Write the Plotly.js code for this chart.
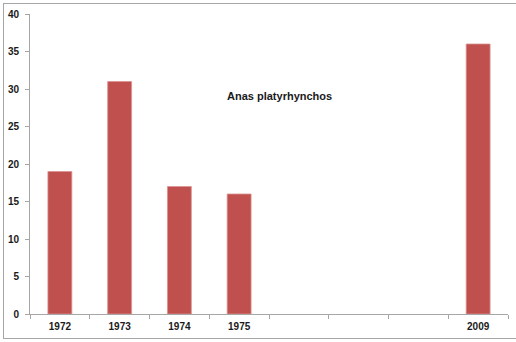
<!DOCTYPE html>
<html>
<head>
<meta charset="utf-8">
<script src="https://cdn.plot.ly/plotly-3.0.1.min.js"></script>
<style>
html,body{margin:0;padding:0;background:#fff;overflow:hidden;}
#wrap{position:relative;width:516px;height:342px;}
#chart{position:absolute;left:0;top:0;width:516px;height:342px;}
#frame{position:absolute;left:3px;top:3px;width:520px;height:334px;border:1px solid #a6a6a6;pointer-events:none;}
</style>
</head>
<body>
<div id="wrap"><div id="chart"></div><div id="frame"></div></div>
<script>
const categories = ["1972", "1973", "1974", "1975", "c5", "c6", "c7", "2009"];
const tickLabels = ["1972", "1973", "1974", "1975", "", "", "", "2009"];
const counts = [19, 31, 17, 16, null, null, null, 36];
const chartTitle = "Anas platyrhynchos";

const axisFont = {family: "Liberation Sans, Arial, sans-serif", size: 10, color: "#1a1a1a", weight: "bold"};

Plotly.newPlot("chart", [{
  type: "bar",
  x: categories,
  y: counts,
  marker: {color: "#C0504D", line: {color: "#d99391", width: 0.8}},
  hoverinfo: "none"
}], {
  width: 516,
  height: 342,
  margin: {l: 30, r: 8, t: 14, b: 28},
  paper_bgcolor: "#ffffff",
  plot_bgcolor: "#ffffff",
  showlegend: false,
  bargap: 0.6,
  xaxis: {
    type: "category",
    categoryorder: "array",
    categoryarray: categories,
    tickmode: "array",
    tickvals: categories,
    ticktext: tickLabels,
    tickson: "boundaries",
    ticks: "outside",
    ticklen: 4,
    tickcolor: "#a6a6a6",
    ticklabelstandoff: 3,
    showline: true,
    linecolor: "#a6a6a6",
    linewidth: 1,
    showgrid: false,
    zeroline: false,
    tickfont: axisFont,
    range: [-0.5, 7.5],
    fixedrange: true
  },
  yaxis: {
    range: [0, 40],
    dtick: 5,
    tick0: 0,
    ticks: "outside",
    ticklen: 4,
    tickcolor: "#a6a6a6",
    ticklabelstandoff: 4,
    showline: true,
    linecolor: "#a6a6a6",
    linewidth: 1,
    showgrid: false,
    zeroline: false,
    tickfont: axisFont,
    fixedrange: true
  },
  annotations: [{
    text: chartTitle,
    xref: "paper", yref: "paper",
    x: 0.522, y: 0.727,
    xanchor: "center", yanchor: "middle",
    showarrow: false,
    font: {family: "Liberation Sans, Arial, sans-serif", size: 11, color: "#1a1a1a", weight: "bold"}
  }]
}, {displayModeBar: false, staticPlot: true});
</script>
</body>
</html>
